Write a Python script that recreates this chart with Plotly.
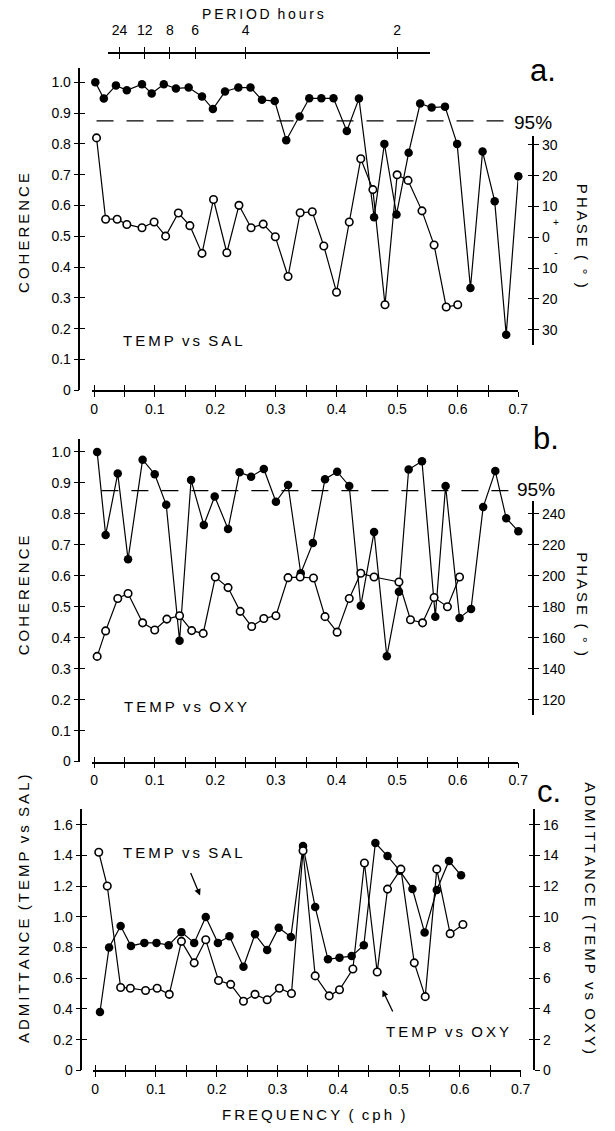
import plotly.graph_objects as go

W, H = 615, 1131
FONT = "Liberation Sans, Arial, sans-serif"


def px(v):
    return v / W


def py(v):
    return 1 - v / H


# ---------------- data ----------------
# a. TEMP vs SAL : coherence (filled) and phase in degrees (open)
freq_a_coh = [0.002, 0.016, 0.036, 0.054, 0.079, 0.095, 0.115, 0.135, 0.156, 0.178, 0.196, 0.216,
              0.238, 0.258, 0.277, 0.298, 0.317, 0.339, 0.355, 0.375, 0.395, 0.417, 0.437, 0.462,
              0.479, 0.499, 0.519, 0.538, 0.557, 0.579, 0.599, 0.621, 0.641, 0.661, 0.680, 0.700]
coh_a = [1.00, 0.947, 0.99, 0.974, 0.994, 0.964, 0.994, 0.98, 0.983, 0.954, 0.913, 0.97,
         0.983, 0.983, 0.943, 0.939, 0.812, 0.889, 0.948, 0.948, 0.948, 0.842, 0.947, 0.562,
         0.80, 0.571, 0.771, 0.931, 0.918, 0.921, 0.80, 0.332, 0.775, 0.614, 0.18, 0.695]
freq_a_ph = [0.004, 0.019, 0.038, 0.054, 0.079, 0.099, 0.118, 0.139, 0.158, 0.178, 0.197, 0.219,
             0.239, 0.259, 0.279, 0.299, 0.320, 0.340, 0.360, 0.379, 0.400, 0.421, 0.440, 0.460,
             0.480, 0.500, 0.518, 0.541, 0.561, 0.581, 0.600]
phase_a = [32.3, 5.9, 5.9, 4.2, 3.1, 5.0, 0.4, 7.9, 3.8, -5.2, 12.3, -5.0,
           10.4, 3.1, 4.3, 0.2, -12.7, 8.0, 8.3, -2.8, -17.8, 5.0, 25.5, 15.5,
           -21.9, 20.3, 18.5, 8.6, -2.5, -22.6, -21.9]

# b. TEMP vs OXY : coherence (filled) and phase in degrees (open)
freq_b_coh = [0.005, 0.019, 0.039, 0.056, 0.080, 0.100, 0.119, 0.141, 0.160, 0.181, 0.199, 0.221,
              0.240, 0.259, 0.280, 0.300, 0.320, 0.341, 0.361, 0.381, 0.401, 0.421, 0.440, 0.462,
              0.483, 0.503, 0.519, 0.541, 0.563, 0.580, 0.603, 0.622, 0.642, 0.662, 0.680, 0.700]
coh_b = [1.0, 0.732, 0.93, 0.653, 0.975, 0.928, 0.829, 0.39, 0.909, 0.764, 0.856, 0.751,
         0.934, 0.92, 0.945, 0.839, 0.893, 0.608, 0.706, 0.912, 0.936, 0.89, 0.503, 0.741,
         0.34, 0.548, 0.943, 0.97, 0.468, 0.89, 0.464, 0.493, 0.822, 0.938, 0.786, 0.744]
freq_b_ph = [0.005, 0.019, 0.039, 0.056, 0.080, 0.100, 0.120, 0.141, 0.161, 0.180, 0.200, 0.221,
             0.241, 0.260, 0.280, 0.300, 0.320, 0.340, 0.362, 0.381, 0.401, 0.421, 0.440, 0.462,
             0.503, 0.522, 0.542, 0.561, 0.583, 0.603]
phase_b = [148.1, 164.5, 185.4, 188.6, 169.7, 165.1, 172.1, 174.3, 164.7, 162.9, 199.2, 192.4,
           177.1, 167.3, 172.5, 174.3, 198.8, 199.2, 198.6, 173.7, 163.7, 185.4, 201.6, 199.2,
           196.0, 171.7, 169.7, 186.0, 180.1, 199.2]

# c. admittance: TEMP vs SAL (filled, left axis) and TEMP vs OXY (open, right axis)
freq_c_sal = [0.008, 0.023, 0.042, 0.059, 0.081, 0.101, 0.121, 0.142, 0.163, 0.182, 0.202, 0.221,
              0.244, 0.263, 0.283, 0.302, 0.322, 0.342, 0.362, 0.383, 0.402, 0.422, 0.442, 0.461,
              0.481, 0.501, 0.522, 0.542, 0.562, 0.582, 0.602]
adm_sal = [0.38, 0.80, 0.94, 0.81, 0.83, 0.83, 0.815, 0.90, 0.83, 0.998, 0.83, 0.873,
           0.675, 0.886, 0.783, 0.929, 0.869, 1.46, 1.063, 0.723, 0.734, 0.744, 0.815, 1.48,
           1.395, 1.30, 1.18, 0.897, 1.174, 1.363, 1.27]
freq_c_oxy = [0.006, 0.020, 0.042, 0.058, 0.083, 0.102, 0.122, 0.142, 0.163, 0.182, 0.203, 0.223,
              0.244, 0.263, 0.283, 0.303, 0.323, 0.342, 0.362, 0.385, 0.402, 0.424, 0.443, 0.464,
              0.481, 0.503, 0.525, 0.543, 0.562, 0.584, 0.605]
adm_oxy = [14.2, 12.0, 5.4, 5.35, 5.2, 5.35, 4.95, 8.4, 7.0, 8.5, 5.85, 5.6,
           4.5, 4.95, 4.6, 5.35, 5.0, 14.3, 6.15, 4.85, 5.25, 6.6, 13.5, 6.4,
           11.8, 13.1, 7.0, 4.8, 13.1, 8.9, 9.5]

freq_ticks = [0, 0.05, 0.1, 0.15, 0.2, 0.25, 0.3, 0.35, 0.4, 0.45, 0.5, 0.55, 0.6, 0.65, 0.7]
freq_labels = ["0", "", "0.1", "", "0.2", "", "0.3", "", "0.4", "", "0.5", "", "0.6", "", "0.7"]
coh_ticks = [0, 0.1, 0.2, 0.3, 0.4, 0.5, 0.6, 0.7, 0.8, 0.9, 1.0]
coh_labels = ["0", "0.1", "0.2", "0.3", "0.4", "0.5", "0.6", "0.7", "0.8", "0.9", "1.0"]
phase_a_ticks = [-30, -20, -10, 0, 10, 20, 30]
phase_a_labels = ["30", "20", "10", "0", "10", "20", "30"]
phase_b_ticks = [120, 140, 160, 180, 200, 220, 240]
adm_sal_ticks = [0, 0.2, 0.4, 0.6, 0.8, 1.0, 1.2, 1.4, 1.6]
adm_sal_labels = ["0", "0.2", "0.4", "0.6", "0.8", "1.0", "1.2", "1.4", "1.6"]
adm_oxy_ticks = [0, 2, 4, 6, 8, 10, 12, 14, 16]
period_hours = [24, 12, 8, 6, 4, 2]
level_95 = 0.875

# ---------------- figure ----------------
fig = go.Figure()


def curve(x, y, xa, ya, filled):
    fig.add_trace(go.Scatter(
        x=x, y=y, xaxis=xa, yaxis=ya, mode="lines+markers",
        line=dict(color="black", width=1.2),
        marker=dict(size=8.5 if filled else 7.5, color="black" if filled else "white",
                    line=dict(color="black", width=0 if filled else 1.6)),
        cliponaxis=False, showlegend=False, hoverinfo="skip"))


def dummy(xa, ya):
    # an empty (null) trace so that the overlaid tick-only axes get drawn
    fig.add_trace(go.Scatter(x=[None], y=[None], xaxis=xa, yaxis=ya, mode="markers",
                             showlegend=False, hoverinfo="skip"))


curve(freq_a_ph, phase_a, "x", "y2", False)
curve(freq_a_coh, coh_a, "x", "y", True)
curve(freq_b_ph, phase_b, "x3", "y6", False)
curve(freq_b_coh, coh_b, "x3", "y5", True)
curve(freq_c_oxy, adm_oxy, "x5", "y10", False)
curve(freq_c_sal, adm_sal, "x5", "y9", True)

for xa, ya in [("x2", "y"), ("x", "y3"), ("x", "y4"), ("x4", "y5"), ("x3", "y7"), ("x3", "y8"),
               ("x6", "y9"), ("x5", "y11"), ("x5", "y12"), ("x7", "y"), ("x8", "y")]:
    dummy(xa, ya)

base = dict(showgrid=False, zeroline=False, showline=True, linecolor="black", linewidth=1.6,
            ticks="outside", ticklen=5, tickwidth=1.4, tickcolor="black",
            tickfont=dict(family=FONT, size=14, color="black"), fixedrange=True,
            tickmode="array", autorange=False)


def twin(overlay, **kw):
    return dict(overlaying=overlay, showgrid=False, zeroline=False, showline=False,
                ticks="inside", ticklen=5, tickwidth=1.4, tickcolor="black",
                showticklabels=False, tickmode="array", autorange=False, fixedrange=True, **kw)


xr = [-0.003, 0.7]
layout_axes = dict(
    # panel a
    xaxis=dict(base, domain=[px(92.1), px(526.6)], range=xr, anchor="y",
               tickvals=freq_ticks, ticktext=freq_labels),
    xaxis2=twin("x", anchor="y", range=xr, tickvals=freq_ticks),
    yaxis=dict(base, domain=[py(393), py(68)], range=[0, 1.048], anchor="free", position=px(79),
               tickvals=coh_ticks, ticktext=coh_labels),
    yaxis3=twin("y", anchor="free", position=px(79), range=[0, 1.048], tickvals=coh_ticks),
    yaxis2=dict(base, domain=[py(347), py(137)], range=[-34.8, 32.9], anchor="free",
                position=px(542), side="right", tickvals=phase_a_ticks, ticktext=phase_a_labels),
    yaxis4=twin("y2", anchor="free", position=px(542), side="right", range=[-34.8, 32.9],
                tickvals=phase_a_ticks),
    # panel b
    xaxis3=dict(base, domain=[px(92.1), px(526.6)], range=xr, anchor="y5",
                tickvals=freq_ticks, ticktext=freq_labels),
    xaxis4=twin("x3", anchor="y5", range=xr, tickvals=freq_ticks),
    yaxis5=dict(base, domain=[py(767), py(441.7)], range=[0, 1.043], anchor="free",
                position=px(79), tickvals=coh_ticks, ticktext=coh_labels),
    yaxis7=twin("y5", anchor="free", position=px(79), range=[0, 1.043], tickvals=coh_ticks),
    yaxis6=dict(base, domain=[py(720), py(505)], range=[110.4, 247.9], anchor="free",
                position=px(542), side="right", tickvals=phase_b_ticks),
    yaxis8=twin("y6", anchor="free", position=px(542), side="right", range=[110.4, 247.9],
                tickvals=phase_b_ticks),
    # panel c
    xaxis5=dict(base, domain=[px(93.1), px(529)], range=xr, anchor="y9",
                tickvals=freq_ticks, ticktext=freq_labels),
    xaxis6=twin("x5", anchor="y9", range=xr, tickvals=freq_ticks),
    yaxis9=dict(base, domain=[py(1078), py(815)], range=[0, 1.70], anchor="free",
                position=px(81), tickvals=adm_sal_ticks, ticktext=adm_sal_labels),
    yaxis11=twin("y9", anchor="free", position=px(81), range=[0, 1.70], tickvals=adm_sal_ticks),
    yaxis10=dict(base, overlaying="y9", range=[0, 17.0], anchor="free", position=px(543),
                 side="right", tickvals=adm_oxy_ticks),
    yaxis12=twin("y9", anchor="free", position=px(543), side="right", range=[0, 17.0],
                 tickvals=adm_oxy_ticks),
    # period axis on top
    xaxis7=dict(base, domain=[px(108.6), px(437)], range=[0.0236, 0.555], anchor="free",
                position=py(53), side="top", tickvals=[1 / p for p in period_hours],
                ticktext=[str(p) for p in period_hours], ticklabelstandoff=6),
    xaxis8=twin("x7", anchor="free", position=py(53), side="top", range=[0.0236, 0.555],
                tickvals=[1 / p for p in period_hours]),
)

T = "\u2009"   # thin space, to mimic the letter-spaced lettering of the original
S = "\u00a0"   # non-breaking space between words


def sp(*words, gap=2):
    return (S * gap).join(T.join(w) for w in words)


def ann(x, y, text, size=15, angle=0, xanchor="center"):
    return dict(x=px(x), y=py(y), xref="paper", yref="paper", text=text, showarrow=False,
                textangle=angle, xanchor=xanchor, yanchor="middle",
                font=dict(family=FONT, size=size, color="black"))


annotations = [
    ann(266, 14, sp("PERIOD", "hours"), 14),
    ann(552, 71, "a.", 31), ann(555, 442, "b.", 31), ann(558, 797, "c.", 31),
    ann(542, 123, "95%", 19), ann(545, 493, "95%", 19),
    ann(121, 343, sp("TEMP", "vs", "SAL"), 15, xanchor="left"),
    ann(122, 712, sp("TEMP", "vs", "OXY"), 15, xanchor="left"),
    ann(121, 859, sp("TEMP", "vs", "SAL"), 15, xanchor="left"),
    ann(390, 1039, sp("TEMP", "vs", "OXY"), 15, xanchor="left"),
    ann(22, 235, sp("COHERENCE"), 15, -90),
    ann(22, 600, sp("COHERENCE"), 15, -90),
    ann(22, 915, sp("ADMITTANCE", "(TEMP", "vs", "SAL)"), 15, -90),
    ann(592, 238, sp("PHASE", "(", "°", ")"), 15, 90),
    ann(592, 609, sp("PHASE", "(", "°", ")"), 15, 90),
    ann(600, 925, sp("ADMITTANCE", "(TEMP", "vs", "OXY)"), 15, 90),
    ann(318, 1122, sp("FREQUENCY", "(", "cph", ")"), 15),
    ann(565, 224, "+", 10), ann(565, 254, "-", 11),
]
for (hx, hy, tx, ty) in [(202, 902, 192, 878), (388, 997, 399, 1020)]:
    annotations.append(dict(x=px(hx), y=py(hy), xref="paper", yref="paper", text="",
                            showarrow=True, ax=tx - hx, ay=ty - hy, arrowhead=2, arrowsize=1,
                            arrowwidth=1.3, arrowcolor="black"))

shapes = [
    dict(type="line", xref="x", yref="y", x0=0.004, x1=0.69, y0=level_95, y1=level_95,
         line=dict(color="black", width=1.3, dash="17px,13px")),
    dict(type="line", xref="x3", yref="y5", x0=0.012, x1=0.69, y0=level_95, y1=level_95,
         line=dict(color="black", width=1.3, dash="17px,13px")),
]

fig.update_layout(width=W, height=H, margin=dict(l=0, r=0, t=0, b=0), autosize=False,
                  paper_bgcolor="white", plot_bgcolor="rgba(0,0,0,0)", showlegend=False,
                  annotations=annotations, shapes=shapes, **layout_axes)

fig.write_html("out.html", config={"displayModeBar": False, "responsive": False},
               post_script="document.body.style.margin='0';"
                           "document.body.style.overflow='hidden';"
                           "document.documentElement.style.overflow='hidden';")
